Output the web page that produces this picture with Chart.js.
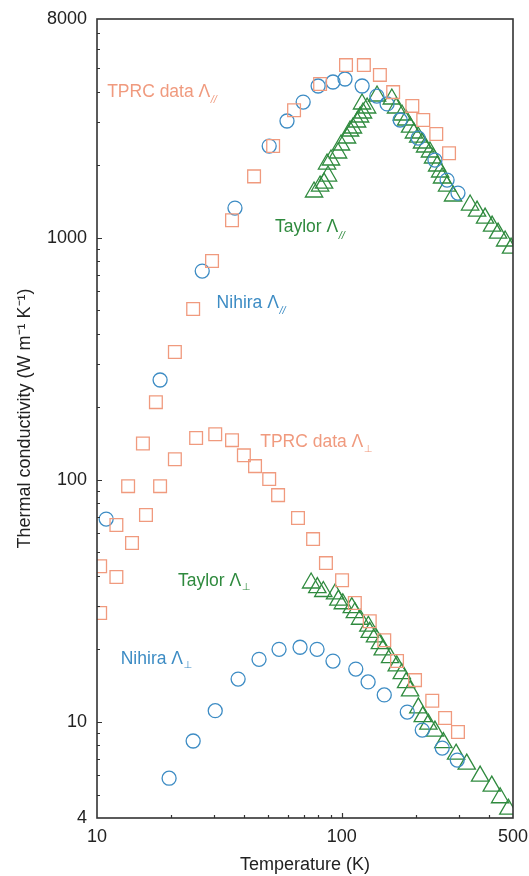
<!DOCTYPE html>
<html>
<head>
<meta charset="utf-8">
<script src="https://cdn.jsdelivr.net/npm/chart.js@4.4.1/dist/chart.umd.min.js"></script>
<style>
  html, body { margin: 0; padding: 0; background: #fff; }
</style>
</head>
<body>
<canvas id="kappa" width="529" height="876"></canvas>
<script>
// thermal conductivity of graphite-like samples, log-log
const tprcParT = [10.3, 12.0, 13.4, 15.4, 17.4, 20.8, 24.7, 29.5, 35.6, 43.8, 52.4, 63.8, 81.5, 104, 123, 143, 162, 194, 215, 243, 274];
const tprcParK = [43.9, 64.9, 94, 141, 209, 337, 507, 800, 1180, 1790, 2390, 3360, 4310, 5160, 5160, 4700, 3990, 3500, 3060, 2680, 2230];

const tprcPerpT = [10.3, 12.0, 13.9, 15.85, 18.1, 20.8, 25.4, 30.4, 35.6, 39.8, 44.2, 50.5, 54.9, 66.2, 76.3, 86.1, 100.2, 113, 130, 149, 168, 199, 234, 264, 298];
const tprcPerpK = [28.1, 39.6, 54.7, 71.4, 94, 121.5, 148.5, 154, 145.6, 126, 113.7, 100.5, 86.3, 69.4, 56.8, 45.2, 38.4, 30.9, 26.0, 21.7, 17.8, 14.85, 12.2, 10.35, 9.06];

const nihiraParT = [10.9, 18.1, 26.9, 36.6, 50.5, 59.7, 69.5, 80.0, 92.0, 103, 121, 139, 153, 173, 205, 240, 269, 298];
const nihiraParK = [68.7, 258, 727, 1324, 2389, 3031, 3631, 4230, 4393, 4521, 4230, 3844, 3565, 3060, 2577, 2090, 1728, 1527];

const nihiraPerpT = [19.7, 24.7, 30.4, 37.7, 45.9, 55.4, 67.5, 79.2, 92.0, 114, 128, 149, 185, 213, 257, 296];
const nihiraPerpK = [5.84, 8.32, 11.1, 15.0, 18.1, 19.9, 20.3, 19.9, 17.8, 16.5, 14.6, 12.9, 10.96, 9.23, 7.78, 6.94];

const taylorParT = [77.0, 81.5, 84.6, 87.8, 87.0, 90.3, 96.5, 99.2, 105, 108, 111, 115.4, 118.7, 122, 120.9, 126.8, 139.2, 160, 166.5, 176, 183, 190, 197, 205, 212.6, 218.8, 229, 235.8, 245, 252, 256.6, 269, 284.6, 334, 356.6, 384.6, 410.8, 434.6, 464.3, 491];
const taylorParK = [1543, 1633, 1680, 1796, 2013, 2092, 2236, 2413, 2579, 2756, 2836, 3003, 3149, 3271, 3564, 3430, 3845, 3737, 3430, 3210, 3060, 2862, 2704, 2603, 2459, 2367, 2257, 2132, 1976, 1866, 1763, 1633, 1485, 1363, 1287, 1204, 1116, 1044, 968, 905];

const taylorPerpT = [74.9, 79.4, 84.0, 93.8, 96.8, 100.9, 109.8, 113, 118.7, 128.3, 130, 136.6, 143, 146.9, 157.4, 167.6, 175.7, 183, 190, 205.3, 214, 225.6, 240, 259.8, 292.8, 323.7, 367, 409.6, 443, 478.6];
const taylorPerpK = [37.4, 35.8, 34.5, 33.7, 31.8, 30.7, 29.6, 28.2, 26.5, 24.8, 23.4, 22.4, 21.0, 19.8, 18.4, 17.0, 15.8, 14.5, 13.4, 11.4, 10.5, 9.77, 9.14, 8.19, 7.34, 6.68, 5.96, 5.42, 4.85, 4.35];

const xLabels = [10, 100, 500];
const yLabels = [4, 10, 100, 1000, 8000];

const tprcColor = '#F09A7E';
const nihiraColor = '#3D8CC4';
const taylorColor = '#2F8A3E';
const frameColor = '#333333';
const fontFamily = '"Liberation Sans", Arial, Helvetica, sans-serif';

// in-plot series captions, anchored at (T, k)
const captions = [
  { text: 'TPRC data Λ', sub: '//', T: 11.0, k: 4000, color: tprcColor },
  { text: 'Taylor Λ', sub: '//', T: 53.3, k: 1100, color: taylorColor },
  { text: 'Nihira Λ', sub: '//', T: 30.8, k: 535, color: nihiraColor },
  { text: 'TPRC data Λ', sub: '⊥', T: 46.4, k: 143, color: tprcColor },
  { text: 'Taylor Λ', sub: '⊥', T: 21.4, k: 38.2, color: taylorColor },
  { text: 'Nihira Λ', sub: '⊥', T: 12.5, k: 18.2, color: nihiraColor },
];

function pairs(xs, ys) {
  return xs.map((x, i) => ({ x: x, y: ys[i] }));
}

function series(label, xs, ys, color, style, radius) {
  return {
    label: label,
    data: pairs(xs, ys),
    pointStyle: style,
    pointRadius: radius,
    pointBorderWidth: 1.3,
    borderColor: color,
    pointBorderColor: color,
    pointBackgroundColor: 'rgba(0,0,0,0)',
    showLine: false,
    clip: 0,
  };
}

// minor/major tick positions for a decade axis
function decadeTicks(min, max) {
  const out = [];
  for (let d = 1; d <= 10000; d *= 10) {
    for (let m = 1; m < 10; m++) {
      const v = m * d;
      if (v > min && v < max) out.push({ v: v, major: m === 1 });
    }
  }
  return out;
}

const frameTicks = {
  id: 'frameTicks',
  afterDraw(chart) {
    const ctx = chart.ctx;
    const a = chart.chartArea;
    const xs = chart.scales.x;
    const ys = chart.scales.y;
    ctx.save();
    ctx.strokeStyle = frameColor;
    ctx.lineWidth = 1.2;
    ctx.beginPath();
    decadeTicks(4, 8000).forEach(t => {
      const py = Math.round(ys.getPixelForValue(t.v)) + 0.5;
      ctx.moveTo(a.left, py);
      ctx.lineTo(a.left + (t.major ? 5 : 3), py);
    });
    decadeTicks(10, 500).forEach(t => {
      const px = Math.round(xs.getPixelForValue(t.v)) + 0.5;
      ctx.moveTo(px, a.bottom);
      ctx.lineTo(px, a.bottom - (t.major ? 5 : 3));
    });
    ctx.stroke();
    ctx.lineWidth = 1.6;
    ctx.strokeRect(a.left, a.top, a.right - a.left, a.bottom - a.top);
    ctx.restore();
  },
};

const captionPlugin = {
  id: 'captions',
  afterDatasetsDraw(chart) {
    const ctx = chart.ctx;
    const xs = chart.scales.x;
    const ys = chart.scales.y;
    ctx.save();
    ctx.textBaseline = 'middle';
    ctx.textAlign = 'left';
    captions.forEach(c => {
      const px = xs.getPixelForValue(c.T);
      const py = ys.getPixelForValue(c.k);
      ctx.fillStyle = c.color;
      ctx.font = '17.5px ' + fontFamily;
      ctx.fillText(c.text, px, py);
      const w = ctx.measureText(c.text).width;
      if (c.sub === '//') {
        ctx.font = 'italic 11px ' + fontFamily;
        ctx.fillText(c.sub, px + w + 0.5, py + 8);
      } else {
        ctx.font = '10px "DejaVu Sans", sans-serif';
        ctx.fillText(c.sub, px + w + 0.5, py + 7);
      }
    });
    ctx.restore();
  },
};

Chart.defaults.font.family = fontFamily;
Chart.defaults.color = '#222';

new Chart(document.getElementById('kappa').getContext('2d'), {
  type: 'scatter',
  data: {
    datasets: [
      series('TPRC data Λ//', tprcParT, tprcParK, tprcColor, 'rect', 9),
      series('TPRC data Λ⊥', tprcPerpT, tprcPerpK, tprcColor, 'rect', 9),
      series('Nihira Λ//', nihiraParT, nihiraParK, nihiraColor, 'circle', 7),
      series('Nihira Λ⊥', nihiraPerpT, nihiraPerpK, nihiraColor, 'circle', 7),
      series('Taylor Λ//', taylorParT, taylorParK, taylorColor, 'triangle', 10),
      series('Taylor Λ⊥', taylorPerpT, taylorPerpK, taylorColor, 'triangle', 10),
    ],
  },
  options: {
    responsive: false,
    animation: false,
    layout: { padding: { top: 19, right: 16, left: 0, bottom: 0 } },
    plugins: {
      legend: { display: false },
      tooltip: { enabled: false },
    },
    scales: {
      x: {
        type: 'logarithmic',
        min: 10,
        max: 500,
        grid: { display: false },
        border: { display: false },
        afterBuildTicks: (scale) => { scale.ticks = xLabels.map(v => ({ value: v })); },
        afterFit: (scale) => {
          scale.height = 58;
          // let the "500" label hang past the plot edge
          scale.paddingLeft = 0;
          scale.paddingRight = 0;
        },
        ticks: {
          autoSkip: false,
          maxRotation: 0,
          padding: 0,
          font: { size: 18 },
          callback: (v) => String(v),
        },
        title: {
          display: true,
          text: 'Temperature (K)',
          font: { size: 18 },
          padding: { top: 0, bottom: 0 },
        },
      },
      y: {
        type: 'logarithmic',
        min: 4,
        max: 8000,
        grid: { display: false },
        border: { display: false },
        afterBuildTicks: (scale) => { scale.ticks = yLabels.map(v => ({ value: v })); },
        afterFit: (scale) => {
          scale.width = 97;
          scale.paddingTop = 0;
          scale.paddingBottom = 0;
        },
        ticks: {
          autoSkip: false,
          padding: 2,
          font: { size: 18 },
          callback: (v) => String(v),
        },
        title: {
          display: true,
          text: 'Thermal conductivity (W m⁻¹ K⁻¹)',
          font: { size: 18 },
          padding: { top: 14, bottom: 0 },
        },
      },
    },
  },
  plugins: [captionPlugin, frameTicks],
});
</script>
</body>
</html>
